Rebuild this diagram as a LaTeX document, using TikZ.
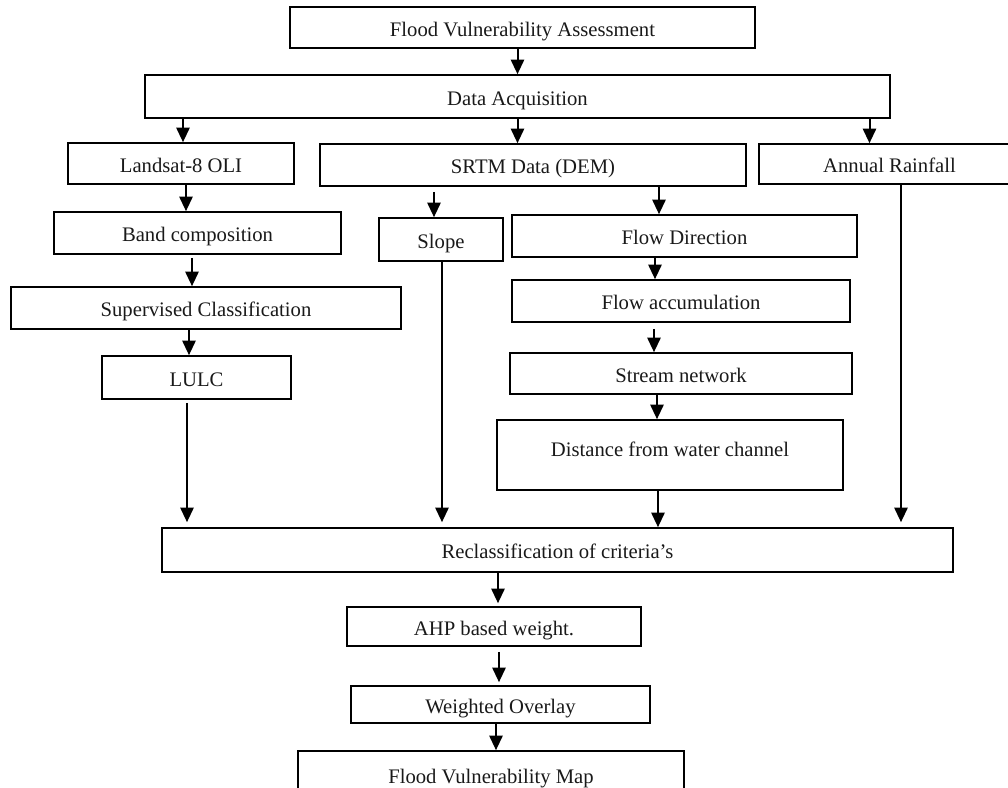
\documentclass[tikz,border=0pt]{standalone}
\usepackage{fontspec}
\setmainfont{Liberation Serif}
\usepackage{tikz}
\usetikzlibrary{arrows.meta,calc}
\tikzset{every node/.style={font=\fontsize{15.5}{17}\selectfont}}
\colorlet{boxcol}{black}
\colorlet{arrowcol}{black}
\colorlet{textcol}{black!90}
\tikzset{
  stage/.style 2 args={draw=boxcol, line width=1.2pt, text=textcol, inner sep=0pt,
    text height=14pt, text depth=1pt,
    minimum width=#1*0.75pt, minimum height=#2*0.75pt},
  arr/.style={draw=arrowcol, line width=1.5pt, -{Triangle[length=11pt,width=10pt]}}
}

\begin{document}
\begin{tikzpicture}[x=0.75pt, y=-0.75pt]

  % Page frame (pixel units, y downwards).
  \useasboundingbox (0,0) rectangle (1008,788);
  \clip (0,0) rectangle (1008,788);

  % Top of the chart.
  \node[stage={465}{41}] (title) at (522.5,27.5) {Flood Vulnerability Assessment};
  \node[stage={745}{43}] (data) at (517.5,96.5) {Data Acquisition};

  % Three data sources.
  \node[stage={226}{41}] (landsat) at (181,163.5) {Landsat-8 OLI};
  \node[stage={426}{42}] (srtm) at (533,165) {SRTM Data (DEM)};
  \node[stage={261}{40}] (rain) at (889.5,164) {Annual Rainfall};

  % Landsat branch.
  \node[stage={287}{42}] (band) at (197.5,233) {Band composition};
  \node[stage={390}{42}] (superv) at (206,308) {Supervised Classification};
  \node[stage={189}{43}] (lulc) at (196.5,377.5) {LULC};

  % SRTM branch.
  \node[stage={124}{43}] (slope) at (441,239.5) {Slope};
  \node[stage={345}{42}] (flowdir) at (684.5,236) {Flow Direction};
  \node[stage={338}{42}] (flowacc) at (681,301) {Flow accumulation};
  \node[stage={342}{41}] (stream) at (681,373.5) {Stream network};
  \node[stage={346}{70}, text depth=12pt] (dist) at (670,455) {Distance from water channel};

  % Lower part.
  \node[stage={791}{44}] (reclass) at (557.5,550) {Reclassification of criteria’s};
  \node[stage={294}{39}] (ahp) at (494,626.5) {AHP based weight.};
  \node[stage={299}{37}] (weighted) at (500.5,704.5) {Weighted Overlay};
  \node[stage={386}{48}] (fvm) at (491,775) {Flood Vulnerability Map};

  % Arrows below the top boxes.
  \draw[arr] (title.south -| data.north) -- (data.north);
  \draw[arr] ($(data.south -| landsat.north)+(2,0)$) -- ($(landsat.north)+(2,0)$);
  \draw[arr] (data.south) -- (data.south |- srtm.north);
  \draw[arr] ($(data.south -| rain.north)+(-20,0)$) -- ($(rain.north)+(-20,0)$);

  % Landsat column.
  \draw[arr] ($(landsat.south -| band.north)+(-11.5,0)$) -- ($(band.north)+(-11.5,0)$);
  \draw[arr] ($(band.south -| superv.north)+(-14,3)$) -- ($(superv.north)+(-14,0)$);
  \draw[arr] ($(superv.south -| lulc.north)+(-7.5,0)$) -- ($(lulc.north)+(-7.5,0)$);

  % SRTM column.
  \draw[arr] ($(srtm.south -| slope.north)+(-7,5)$) -- ($(slope.north)+(-7,0)$);
  \draw[arr] ($(srtm.south -| flowdir.north)+(-25.5,0)$) -- ($(flowdir.north)+(-25.5,0)$);
  \draw[arr] ($(flowdir.south -| flowacc.north)+(-26,0)$) -- ($(flowacc.north)+(-26,0)$);
  \draw[arr] ($(flowacc.south -| stream.north)+(-27,6)$) -- ($(stream.north)+(-27,0)$);
  \draw[arr] ($(stream.south -| dist.north)+(-13,0)$) -- ($(dist.north)+(-13,0)$);

  % Everything into the reclassification.
  \draw[arr] ($(lulc.south)+(-9.5,3)$) -- ($(lulc.south |- reclass.north)+(-9.5,-5)$);
  \draw[arr] ($(slope.south)+(1,0)$) -- ($(slope.south |- reclass.north)+(1,-5)$);
  \draw[arr] ($(dist.south)+(-12,0)$) -- ($(dist.south |- reclass.north)+(-12,0)$);
  \draw[arr] ($(rain.south)+(11.5,0)$) -- ($(rain.south |- reclass.north)+(11.5,-5)$);

  % Weighting steps.
  \draw[arr] ($(reclass.south -| ahp.north)+(4,0)$) -- ($(ahp.north)+(4,-3)$);
  \draw[arr] ($(ahp.south -| weighted.north)+(-1.5,5)$) -- ($(weighted.north)+(-1.5,-3)$);
  \draw[arr] ($(weighted.south -| fvm.north)+(5,0)$) -- ($(fvm.north)+(5,0)$);

\end{tikzpicture}
\end{document}
